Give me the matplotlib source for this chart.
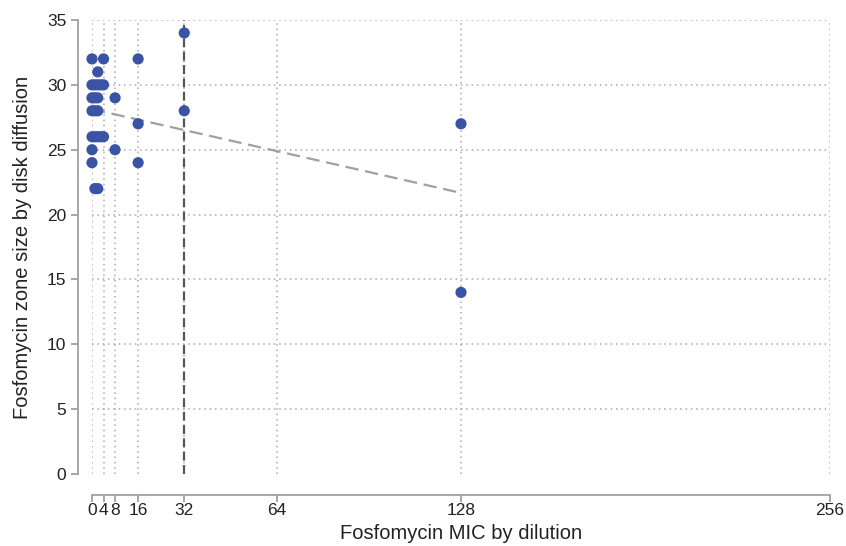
import numpy as np
import matplotlib.pyplot as plt

plt.rcParams['font.family'] = ['Liberation Sans', 'DejaVu Sans']

# MIC by dilution vs zone diameter
mic = [0, 4, 16, 2,
       0, 1, 2, 3, 4,
       0, 1, 2, 8,
       0, 1, 2,
       16,
       0, 1, 2, 3, 4,
       0, 8,
       0, 16,
       1, 2,
       32, 32, 128, 128]
zone = [32, 32, 32, 31,
        30, 30, 30, 30, 30,
        29, 29, 29, 29,
        28, 28, 28,
        27,
        26, 26, 26, 26, 26,
        25, 25,
        24, 24,
        22, 22,
        34, 28, 27, 14]
xticks = [0, 4, 8, 16, 32, 64, 128, 256]
yticks = [0, 5, 10, 15, 20, 25, 30, 35]
breakpoint_mic = 32

fig = plt.figure(figsize=(8.46, 5.46), dpi=100)
W, H = 846, 546
ax = fig.add_axes([92 / W, 1 - 474 / H, (830 - 92) / W, (474 - 20) / H])

grid = dict(color='#a8a8a8', linestyle=(0, (1, 2.5)), linewidth=1.1, zorder=0)
for t in xticks:
    ax.axvline(t, **grid)
for t in yticks[1:]:
    ax.axhline(t, **grid)

ax.axvline(breakpoint_mic, color='#555555', linestyle=(0, (4, 2)), linewidth=1.6, zorder=1)

b, a = np.polyfit(mic, zone, 1)
xs = np.array([min(mic), max(mic)])
ax.plot(xs, a + b * xs, color='#a0a0a0', linestyle=(0, (6, 3)), linewidth=1.6, zorder=2)

ax.scatter(mic, zone, s=65, color='#3a53a4', edgecolor='none', zorder=3, clip_on=False)

ax.set_xlim(0, 256)
ax.set_ylim(0, 35)
ax.set_xticks(xticks)
ax.set_yticks(yticks)
for s in ['top', 'right']:
    ax.spines[s].set_visible(False)
ax.spines['left'].set_position(('outward', 10))
ax.spines['bottom'].set_position(('outward', 15))
ax.spines['left'].set_bounds(0, 35)
ax.spines['bottom'].set_bounds(0, 256)
for s in ['left', 'bottom']:
    ax.spines[s].set_color('#a0a0a0')
    ax.spines[s].set_linewidth(1.3)
ax.tick_params(axis='both', colors='#a0a0a0', length=5, width=1.3, labelsize=12.5, labelcolor='#222222')
ax.tick_params(axis='x', pad=1)
ax.set_xlabel('Fosfomycin MIC by dilution', fontsize=14.5, color='#222222', labelpad=4)
ax.set_ylabel('Fosfomycin zone size by disk diffusion', fontsize=14.5, color='#222222', labelpad=11)

fig.savefig('out.png', dpi=100)
